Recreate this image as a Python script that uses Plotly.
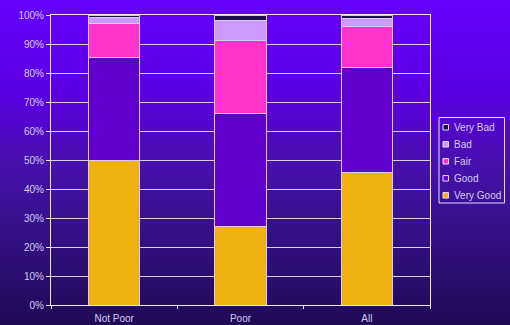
import base64
import plotly.graph_objects as go

categories = ["Not Poor", "Poor", "All"]
very_good = [49.8, 27.0, 45.6]
good = [35.4, 39.1, 36.3]
fair = [12.0, 25.2, 14.0]
bad = [1.8, 6.8, 2.9]
very_bad = [1.0, 1.9, 1.2]

series = [
    ("Very Good", very_good, "#EEB10F"),
    ("Good", good, "#6000CC"),
    ("Fair", fair, "#FF33CC"),
    ("Bad", bad, "#CC99FF"),
    ("Very Bad", very_bad, "#1E0E4E"),
]

W, H = 510, 325
ML, MR, MT, MB = 51, 80, 15, 20
pw = W - ML - MR
ph = H - MT - MB

svg = f'''<svg xmlns="http://www.w3.org/2000/svg" width="{W}" height="{H}" preserveAspectRatio="none">
<defs><linearGradient id="g" x1="0" y1="0" x2="0" y2="1">
<stop offset="0" stop-color="#6600FF"/>
<stop offset="0.3" stop-color="#5A00E0"/>
<stop offset="0.5" stop-color="#4810AE"/>
<stop offset="0.75" stop-color="#311080"/>
<stop offset="1" stop-color="#1F0A55"/>
</linearGradient></defs>
<rect x="0" y="0" width="{W}" height="{H}" fill="url(#g)"/></svg>'''
uri = "data:image/svg+xml;base64," + base64.b64encode(svg.encode()).decode()

fig = go.Figure()
for name, vals, col in series:
    fig.add_trace(go.Bar(
        x=categories, y=vals, name=name,
        marker=dict(color=col, line=dict(color="#D8CCF4", width=1)),
        width=0.406,
    ))

fig.add_layout_image(dict(
    source=uri, xref="paper", yref="paper",
    x=-ML / pw, y=1 + MT / ph, sizex=W / pw, sizey=H / ph,
    xanchor="left", yanchor="top", sizing="stretch", layer="below",
))

# custom legend (pixel positions -> paper coords)
def px(x):
    return (x - ML) / pw

def py(y):
    return (H - MB - y) / ph

shapes = [dict(type="rect", xref="paper", yref="paper",
               x0=px(439), x1=px(504.5), y0=py(203), y1=py(117.5),
               line=dict(color="#E6DEFF", width=1), fillcolor="rgba(0,0,0,0)")]
annotations = []
for i, (name, vals, col) in enumerate(reversed(series)):
    cy = 127.3 + 17 * i
    shapes.append(dict(type="rect", xref="paper", yref="paper",
                       x0=px(443), x1=px(448.5), y0=py(cy + 2.75), y1=py(cy - 2.75),
                       line=dict(color="#E6DEFF", width=1), fillcolor=col))
    annotations.append(dict(xref="paper", yref="paper", x=px(451.5), y=py(cy),
                            xanchor="left", yanchor="middle", showarrow=False,
                            text=name,
                            font=dict(family="Liberation Sans, Arial", size=10, color="#D4CCF2")))

tickfont = dict(family="Liberation Sans, Arial", size=10, color="#D4CCF2")
fig.update_layout(
    width=W, height=H,
    margin=dict(l=ML, r=MR, t=MT, b=MB, autoexpand=False),
    barmode="stack",
    paper_bgcolor="rgba(0,0,0,0)",
    plot_bgcolor="rgba(0,0,0,0)",
    showlegend=False,
    shapes=shapes,
    annotations=annotations,
    xaxis=dict(
        showline=True, linecolor="#F0ECFF", linewidth=1, mirror=True,
        ticks="outside", tickson="boundaries", ticklen=3, tickcolor="#F0ECFF",
        tickfont=tickfont, showgrid=False, ticklabelstandoff=4,
    ),
    yaxis=dict(
        range=[0, 100], dtick=10, ticksuffix="%",
        showline=True, linecolor="#F0ECFF", linewidth=1, mirror=True,
        ticks="outside", ticklen=4, tickcolor="#F0ECFF",
        showgrid=True, gridcolor="#D8D0F4", gridwidth=1,
        tickfont=tickfont, zeroline=False,
    ),
)

fig.write_html("out.html")
